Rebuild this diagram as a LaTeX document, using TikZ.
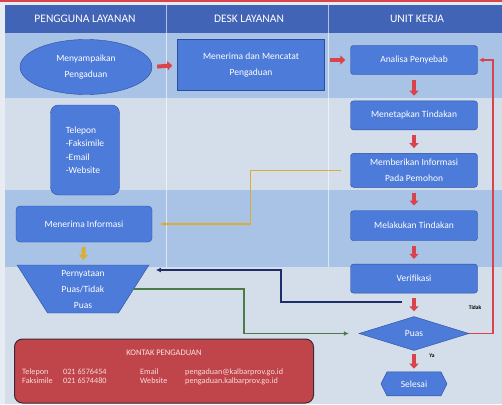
\documentclass[tikz,border=0pt]{standalone}
\usepackage{fontspec}
\setmainfont{Carlito}
\usetikzlibrary{arrows.meta,positioning,shapes.geometric,shapes.symbols}
\definecolor{Latar}{HTML}{E6ECF2}
\definecolor{Kepala}{HTML}{4264B6}
\definecolor{PitaGelap}{HTML}{A9C3E6}
\definecolor{PitaTerang}{HTML}{D3DEEA}
\definecolor{BiruKotak}{HTML}{4D7BD9}
\definecolor{BiruGaris}{HTML}{2C4C9C}
\definecolor{Merah}{HTML}{D9434B}
\definecolor{MerahKotak}{HTML}{C0454B}
\definecolor{MerahGelap}{HTML}{3F2A33}
\definecolor{Kuning}{HTML}{D9AE36}
\definecolor{Laut}{HTML}{1F2E66}
\definecolor{Hijau}{HTML}{4B7C47}

\begin{document}
\begin{tikzpicture}[x=1pt,y=-1pt,node distance=23pt,>=Latex,
  every node/.style={align=center,text=white,font=\fontsize{9.5}{16}\selectfont},
  kotak/.style={draw=BiruGaris,fill=BiruKotak,rounded corners=3pt,minimum width=127pt,minimum height=29pt,inner sep=0pt},
  panah/.style={draw=Merah,line width=4pt,-{Triangle[length=5pt,width=9pt]},shorten <=5pt,shorten >=5pt},
  alur/.style={line width=1.5pt,-{Latex[length=5pt,width=5pt]}}]
\useasboundingbox (0,0) rectangle (502,404);
% latar dan kolom
\fill[Latar] (0,0) rectangle (502,404);
\fill[Merah] (0,0) rectangle (502,2);
\fill[PitaGelap] (5,33) rectangle (502,98);
\fill[PitaTerang] (5,98) rectangle (502,190);
\fill[PitaGelap] (5,190) rectangle (502,267);
\fill[PitaTerang] (5,267) rectangle (502,404);
\fill[Kepala] (5,5) rectangle (502,33);
\draw[white,opacity=.6,line width=1pt] (166,5) -- (166,267) (328,5) -- (328,267);
\node[font=\fontsize{11.5}{12}\selectfont] (kol1) at (85,19) {PENGGUNA LAYANAN};
\node[font=\fontsize{11.5}{12}\selectfont] (kol2) at (249,19) {DESK LAYANAN};
\node[font=\fontsize{11.5}{12}\selectfont] (kol3) at (417,19) {UNIT KERJA};
% pengguna layanan
\node[ellipse,draw=BiruGaris,fill=BiruKotak,minimum width=132pt,minimum height=55pt,inner sep=0pt] (sampai) at (86,67) {Menyampaikan\\Pengaduan};
\node[kotak,rounded corners=8pt,minimum width=69pt,minimum height=90pt,align=left,font=\fontsize{9.5}{13.5}\selectfont] (media) at (85,150) {Telepon\\-Faksimile\\-Email\\-Website};
\node[kotak,rounded corners=4pt,minimum width=136pt,minimum height=36pt] (terima) at (84,224) {Menerima Informasi};
\node[trapezium,trapezium angle=64,shape border rotate=180,trapezium stretches=true,draw=BiruGaris,fill=BiruKotak,minimum width=132pt,minimum height=48pt,inner sep=0pt] (nyata) at (83,289) {Pernyataan\\Puas/Tidak\\Puas};
% desk layanan
\node[kotak,rounded corners=0pt,minimum width=147pt,minimum height=51pt] (catat) at (251,65) {Menerima dan Mencatat\\Pengaduan};
% unit kerja
\node[kotak] (analisa) at (414,60) {Analisa Penyebab};
\node[kotak,below=26pt of analisa] (tetap) {Menetapkan Tindakan};
\node[kotak,minimum height=34pt,below=of tetap] (beri) {Memberikan Informasi\\Pada Pemohon};
\node[kotak,minimum height=30pt,below=of beri] (laku) {Melakukan Tindakan};
\node[kotak,below=of laku] (verif) {Verifikasi};
\node[diamond,draw=BiruGaris,fill=BiruKotak,aspect=3.2,minimum width=110pt,minimum height=34pt,inner sep=0pt,below=of verif] (puas) {Puas};
\node[signal,signal to=west and east,signal pointer angle=127,draw=BiruGaris,fill=BiruKotak,minimum width=66pt,minimum height=24pt,inner sep=0pt,below=21pt of puas] (selesai) {Selesai};
\node[text=black,font=\fontsize{5.5}{6}\selectfont\bfseries] (tidak) at (475,308) {Tidak};
\node[text=black,font=\fontsize{5.5}{6}\selectfont\bfseries] (ya) at (432,356) {Ya};
% kontak
\node[draw=MerahGelap,fill=MerahKotak,rounded corners=8pt,line width=1pt,minimum width=299pt,minimum height=64pt] (kontak) at (164,371) {};
\node[font=\fontsize{8.5}{10}\selectfont,text=white!85!Merah] (judul) at (164,353) {KONTAK PENGADUAN};
\node[anchor=north west,align=left,inner sep=0pt,font=\fontsize{8.2}{9}\selectfont,text=white!80!Merah] (rinci) at (22,368) {\begin{tabular}{@{}p{41pt}@{}p{77pt}@{}p{45pt}@{}l@{}}Telepon & 021 6576454 & Email & pengaduan@kalbarprov.go.id\\Faksimile & 021 6574480 & Website & pengaduan.kalbarprov.go.id\end{tabular}};
% panah
\draw[panah] (sampai.east) -- (catat.west); \draw[panah] (catat.east |- analisa) -- (analisa.west);
\draw[panah] (analisa.south) -- (tetap.north); \draw[panah] (tetap.south) -- (beri.north);
\draw[panah] (beri.south) -- (laku.north); \draw[panah] (laku.south) -- (verif.north);
\draw[panah] (verif.south) -- (puas.north); \draw[panah,shorten <=3pt,shorten >=3pt] (puas.south) -- (selesai.north);
\draw[panah,draw=Kuning] (terima.south) -- (nyata.north);
\draw[alur,Kuning,shorten <=9pt,shorten >=8pt] (beri.west) -- ++(-100,0) |- (terima.east);
\coordinate (ujung) at (402,302);
\draw[alur,Laut,shorten >=22pt] (ujung) -| (281,270) -- (nyata.east |- 0,270);
\draw[alur,Hijau,shorten >=10pt] (nyata.east) -- ++(110,0) |- (puas.west);
\draw[alur,Merah,shorten >=1pt] (puas.east) -- ++(24,0) |- (analisa.east);
\end{tikzpicture}
\end{document}
